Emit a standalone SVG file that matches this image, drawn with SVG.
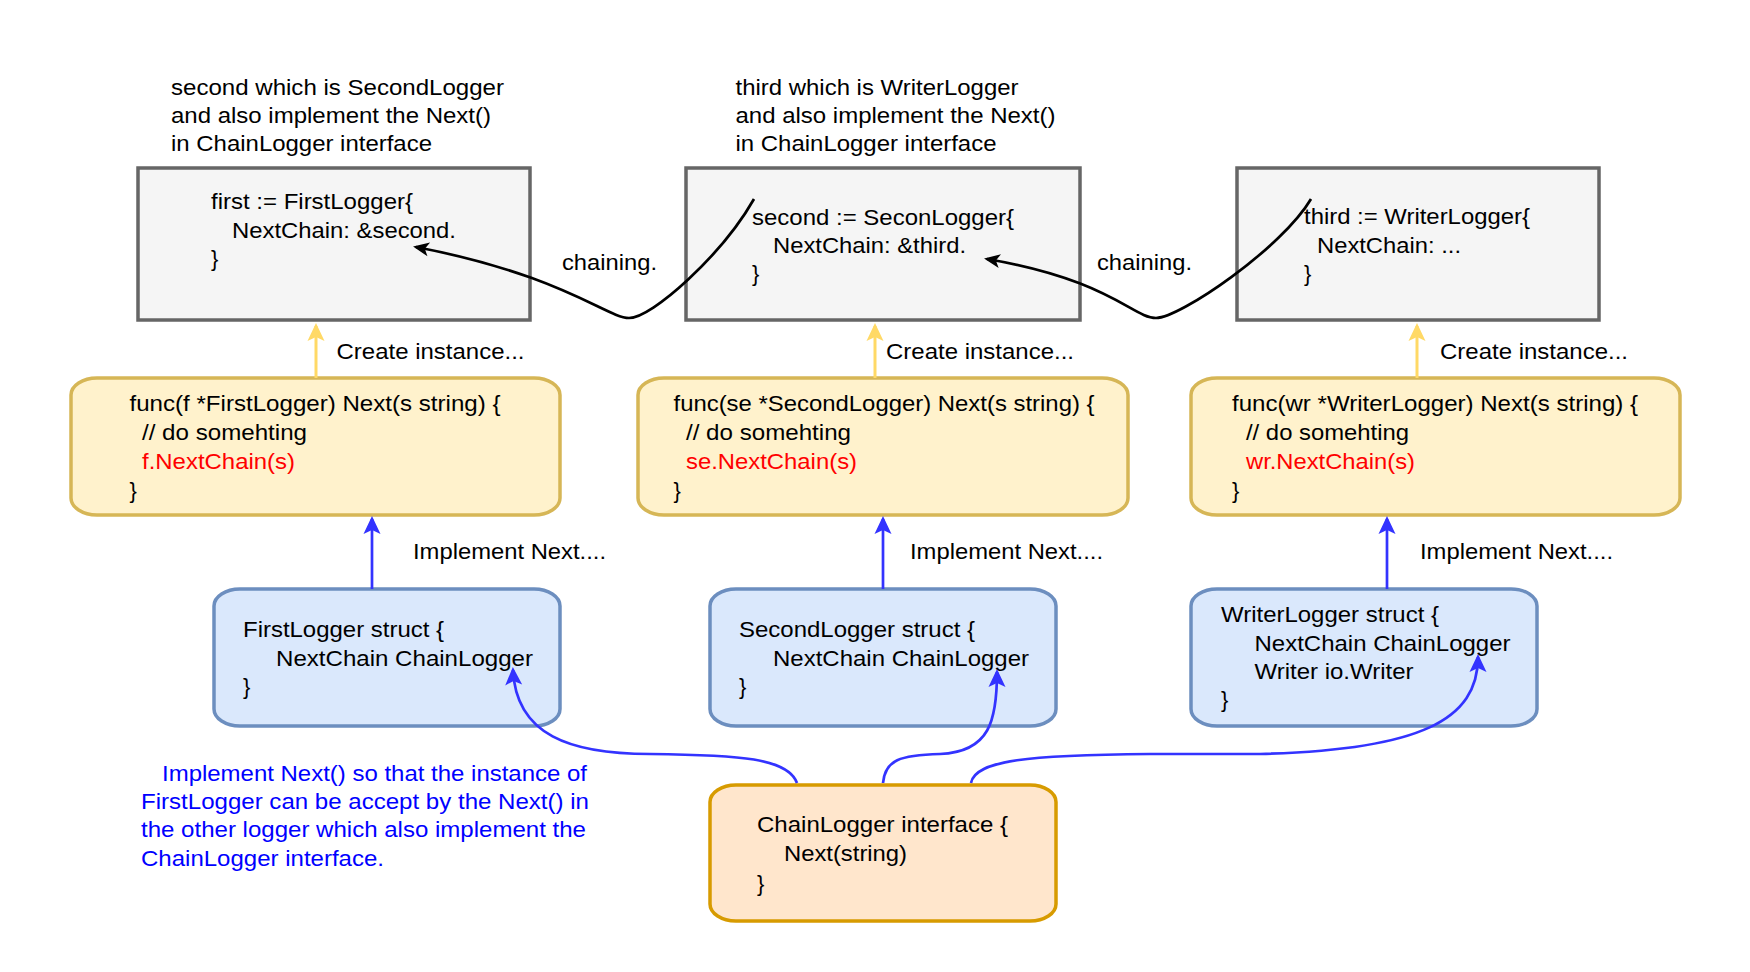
<svg xmlns="http://www.w3.org/2000/svg" width="1750" height="972" viewBox="0 0 1750 972">
<style>
.t{font-family:"Liberation Sans",Arial,Helvetica,sans-serif;font-size:22px;fill:#000}
.r{fill:#ff0000}
.bl{fill:#0000ff}
.gray{fill:#f5f5f5;stroke:#666666;stroke-width:3.5}
.yel{fill:#fff2cc;stroke:#d6b656;stroke-width:3.5}
.blu{fill:#dae8fc;stroke:#6c8ebf;stroke-width:3.5}
.ora{fill:#ffe6cc;stroke:#d79b00;stroke-width:3.5}
.ck{fill:none;stroke:#000;stroke-width:2.7}
.cy{fill:none;stroke:#ffd966;stroke-width:3}
.cb{fill:none;stroke:#3333ff;stroke-width:2.7}
</style>
<defs>
<marker id="ak" markerUnits="userSpaceOnUse" markerWidth="20" markerHeight="20" viewBox="0 0 20 20" refX="16" refY="10" orient="auto"><path d="M3,3 L19,10 L3,17 L7,10 Z" fill="#000"/></marker>
<marker id="ay" markerUnits="userSpaceOnUse" markerWidth="20" markerHeight="20" viewBox="0 0 20 20" refX="16" refY="10" orient="auto"><path d="M1,1.5 L19,10 L1,18.5 L5,10 Z" fill="#ffd966"/></marker>
<marker id="ab" markerUnits="userSpaceOnUse" markerWidth="20" markerHeight="20" viewBox="0 0 20 20" refX="16" refY="10" orient="auto"><path d="M1,1.5 L19,10 L1,18.5 L5,10 Z" fill="#3333ff"/></marker>
</defs>

<g id="note-second">
<text class="t" x="171" y="95" textLength="333" lengthAdjust="spacingAndGlyphs">second which is SecondLogger</text>
<text class="t" x="171" y="123" textLength="320" lengthAdjust="spacingAndGlyphs">and also implement the Next()</text>
<text class="t" x="171" y="151" textLength="261" lengthAdjust="spacingAndGlyphs">in ChainLogger interface</text>
</g>
<g id="note-third">
<text class="t" x="735.5" y="95" textLength="283" lengthAdjust="spacingAndGlyphs">third which is WriterLogger</text>
<text class="t" x="735.5" y="123" textLength="320" lengthAdjust="spacingAndGlyphs">and also implement the Next()</text>
<text class="t" x="735.5" y="151" textLength="261" lengthAdjust="spacingAndGlyphs">in ChainLogger interface</text>
</g>

<g id="first-instance">
<rect class="gray" x="138" y="168" width="392" height="152"/>
<text class="t" x="211" y="209" textLength="202" lengthAdjust="spacingAndGlyphs">first := FirstLogger{</text>
<text class="t" x="232" y="238" textLength="224" lengthAdjust="spacingAndGlyphs">NextChain: &amp;second.</text>
<text class="t" x="211" y="266">}</text>
</g>
<g id="second-instance">
<rect class="gray" x="686" y="168" width="394" height="152"/>
<text class="t" x="752" y="225" textLength="262" lengthAdjust="spacingAndGlyphs">second := SeconLogger{</text>
<text class="t" x="773" y="253" textLength="193" lengthAdjust="spacingAndGlyphs">NextChain: &amp;third.</text>
<text class="t" x="752" y="281">}</text>
</g>
<g id="third-instance">
<rect class="gray" x="1237" y="168" width="362" height="152"/>
<text class="t" x="1304" y="224" textLength="226" lengthAdjust="spacingAndGlyphs">third := WriterLogger{</text>
<text class="t" x="1317" y="253" textLength="144" lengthAdjust="spacingAndGlyphs">NextChain: ...</text>
<text class="t" x="1304" y="281">}</text>
</g>

<g id="first-next">
<rect class="yel" x="71" y="378" width="489" height="137" rx="26" ry="17"/>
<text class="t" x="129.5" y="411" textLength="371" lengthAdjust="spacingAndGlyphs">func(f *FirstLogger) Next(s string) {</text>
<text class="t" x="142" y="440" textLength="165" lengthAdjust="spacingAndGlyphs">// do somehting</text>
<text class="t r" x="142" y="469" textLength="153" lengthAdjust="spacingAndGlyphs">f.NextChain(s)</text>
<text class="t" x="129.5" y="498">}</text>
</g>
<g id="second-next">
<rect class="yel" x="638" y="378" width="490" height="137" rx="26" ry="17"/>
<text class="t" x="673.5" y="411" textLength="421" lengthAdjust="spacingAndGlyphs">func(se *SecondLogger) Next(s string) {</text>
<text class="t" x="686" y="440" textLength="165" lengthAdjust="spacingAndGlyphs">// do somehting</text>
<text class="t r" x="686" y="469" textLength="171" lengthAdjust="spacingAndGlyphs">se.NextChain(s)</text>
<text class="t" x="673.5" y="498">}</text>
</g>
<g id="writer-next">
<rect class="yel" x="1191" y="378" width="489" height="137" rx="26" ry="17"/>
<text class="t" x="1232" y="411" textLength="406" lengthAdjust="spacingAndGlyphs">func(wr *WriterLogger) Next(s string) {</text>
<text class="t" x="1246" y="440" textLength="163" lengthAdjust="spacingAndGlyphs">// do somehting</text>
<text class="t r" x="1246" y="469" textLength="169" lengthAdjust="spacingAndGlyphs">wr.NextChain(s)</text>
<text class="t" x="1232" y="498">}</text>
</g>

<g id="first-struct">
<rect class="blu" x="214" y="589" width="346" height="137" rx="26" ry="17"/>
<text class="t" x="243" y="637" textLength="201" lengthAdjust="spacingAndGlyphs">FirstLogger struct {</text>
<text class="t" x="276" y="666" textLength="257" lengthAdjust="spacingAndGlyphs">NextChain ChainLogger</text>
<text class="t" x="243" y="694">}</text>
</g>
<g id="second-struct">
<rect class="blu" x="710" y="589" width="346" height="137" rx="26" ry="17"/>
<text class="t" x="739" y="637" textLength="236" lengthAdjust="spacingAndGlyphs">SecondLogger struct {</text>
<text class="t" x="773" y="666" textLength="256" lengthAdjust="spacingAndGlyphs">NextChain ChainLogger</text>
<text class="t" x="739" y="694">}</text>
</g>
<g id="writer-struct">
<rect class="blu" x="1191" y="589" width="346" height="137" rx="26" ry="17"/>
<text class="t" x="1221" y="622" textLength="218" lengthAdjust="spacingAndGlyphs">WriterLogger struct {</text>
<text class="t" x="1254.5" y="651" textLength="256" lengthAdjust="spacingAndGlyphs">NextChain ChainLogger</text>
<text class="t" x="1254.5" y="679" textLength="159" lengthAdjust="spacingAndGlyphs">Writer io.Writer</text>
<text class="t" x="1221" y="707">}</text>
</g>

<g id="chainlogger-interface">
<rect class="ora" x="710" y="785" width="346" height="136" rx="26" ry="17"/>
<text class="t" x="757" y="832" textLength="251" lengthAdjust="spacingAndGlyphs">ChainLogger interface {</text>
<text class="t" x="784" y="861" textLength="123" lengthAdjust="spacingAndGlyphs">Next(string)</text>
<text class="t" x="757" y="891">}</text>
</g>

<g id="note-implement">
<text class="t bl" x="162" y="781" textLength="425" lengthAdjust="spacingAndGlyphs">Implement Next() so that the instance of</text>
<text class="t bl" x="141" y="809" textLength="448" lengthAdjust="spacingAndGlyphs">FirstLogger can be accept by the Next() in</text>
<text class="t bl" x="141" y="837" textLength="445" lengthAdjust="spacingAndGlyphs">the other logger which also implement the</text>
<text class="t bl" x="141" y="866" textLength="243" lengthAdjust="spacingAndGlyphs">ChainLogger interface.</text>
</g>

<g id="connectors">
<path class="ck" marker-end="url(#ak)" d="M754,199 C722,255 652,318 629,318 C607,318 562,275 416,247"/>
<text class="t" x="562" y="270" textLength="95" lengthAdjust="spacingAndGlyphs">chaining.</text>
<path class="ck" marker-end="url(#ak)" d="M1311,199 C1282,248 1180,318 1156,318 C1133,318 1110,280 987,259"/>
<text class="t" x="1097" y="270" textLength="95" lengthAdjust="spacingAndGlyphs">chaining.</text>

<path class="cy" marker-end="url(#ay)" d="M316,378 L316,326"/>
<text class="t" x="336.5" y="359" textLength="188" lengthAdjust="spacingAndGlyphs">Create instance...</text>
<path class="cy" marker-end="url(#ay)" d="M875,378 L875,326"/>
<text class="t" x="886" y="359" textLength="188" lengthAdjust="spacingAndGlyphs">Create instance...</text>
<path class="cy" marker-end="url(#ay)" d="M1417,378 L1417,326"/>
<text class="t" x="1440" y="359" textLength="188" lengthAdjust="spacingAndGlyphs">Create instance...</text>

<path class="cb" marker-end="url(#ab)" d="M372,589 L372,519"/>
<text class="t" x="413" y="559" textLength="193" lengthAdjust="spacingAndGlyphs">Implement Next....</text>
<path class="cb" marker-end="url(#ab)" d="M883,589 L883,519"/>
<text class="t" x="910" y="559" textLength="193" lengthAdjust="spacingAndGlyphs">Implement Next....</text>
<path class="cb" marker-end="url(#ab)" d="M1387,589 L1387,519"/>
<text class="t" x="1420" y="559" textLength="193" lengthAdjust="spacingAndGlyphs">Implement Next....</text>

<path class="cb" marker-end="url(#ab)" d="M797,783 C788,758 740,755 650,754 C570,754 516,735 513,670"/>
<path class="cb" marker-end="url(#ab)" d="M883,783 C885,760 900,755 940,754 C990,752 997,720 997,672"/>
<path class="cb" marker-end="url(#ab)" d="M971,783 C975,760 1030,755 1150,754 L1260,754 C1420,750 1478,720 1478,657"/>
</g>
</svg>
